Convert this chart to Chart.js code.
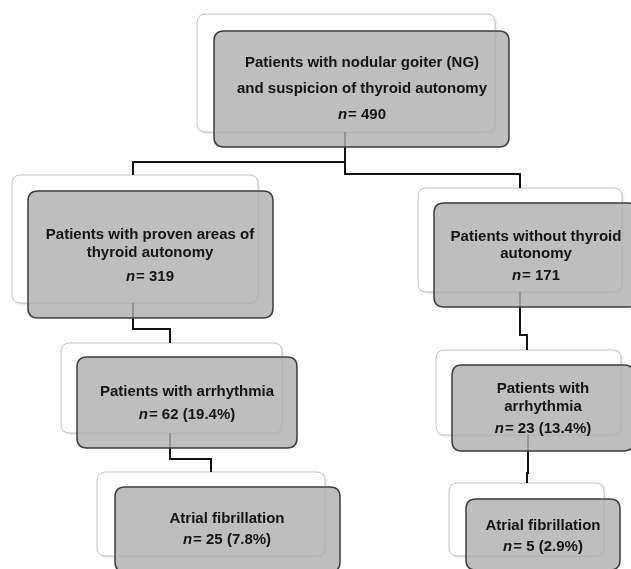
<!DOCTYPE html>
<html>
<head>
<meta charset="utf-8">
<script src="https://cdn.jsdelivr.net/npm/chart.js@4.4.1/dist/chart.umd.min.js"></script>
<style>
  html, body { margin: 0; padding: 0; background: #fff; }
  #wrap { width: 631px; height: 569px; position: relative; }
</style>
</head>
<body>
<div id="wrap"><canvas id="flowChart"></canvas></div>
<script>
// node texts and counts of the flow diagram
const nodeTitles = [
  ["Patients with nodular goiter (NG)", "and suspicion of thyroid autonomy"],
  ["Patients with proven areas of", "thyroid autonomy"],
  ["Patients without thyroid", "autonomy"],
  ["Patients with arrhythmia"],
  ["Patients with", "arrhythmia"],
  ["Atrial fibrillation"],
  ["Atrial fibrillation"],
];
const nodeCounts = [490, 319, 171, 62, 23, 25, 5];
const nodePercents = [null, null, null, 19.4, 13.4, 7.8, 2.9];

// layout in axis units (x: 0..631, y: 0..569 top-down)
const backBoxes = [
  [197, 14, 495, 132],
  [12, 175, 258, 303],
  [418, 188, 622, 292],
  [61, 343, 282, 433],
  [436, 350, 621, 435],
  [97, 472, 325, 556],
  [449, 483, 604, 556],
];
const frontBoxes = [
  [214, 31, 509, 147],
  [28, 191, 273, 318],
  [434, 203, 638, 307],
  [77, 357, 297, 448],
  [452, 365, 634, 451],
  [115, 487, 340, 572],
  [466, 499, 620, 570],
];
const textX = [362, 150, 536, 187, 543, 227, 543];
const textY = [
  [63, 89, 115],
  [235, 253, 277],
  [237, 254, 276],
  [392, 415],
  [389, 407, 429],
  [519, 540],
  [526, 547],
];
// connector paths (elbow lines between boxes)
const connectors = [
  [[345, 132], [345, 174], [520, 174], [520, 188]],
  [[345, 162], [133, 162], [133, 175]],
  [[133, 303], [133, 329], [170, 329], [170, 343]],
  [[520, 292], [520, 335], [527, 335], [527, 350]],
  [[170, 433], [170, 459], [211, 459], [211, 472]],
  [[528, 435], [528, 473], [527, 473], [527, 483]],
];

function roundRect(ctx, x0, y0, x1, y1, r) {
  ctx.beginPath();
  ctx.moveTo(x0 + r, y0);
  ctx.lineTo(x1 - r, y0);
  ctx.quadraticCurveTo(x1, y0, x1, y0 + r);
  ctx.lineTo(x1, y1 - r);
  ctx.quadraticCurveTo(x1, y1, x1 - r, y1);
  ctx.lineTo(x0 + r, y1);
  ctx.quadraticCurveTo(x0, y1, x0, y1 - r);
  ctx.lineTo(x0, y0 + r);
  ctx.quadraticCurveTo(x0, y0, x0 + r, y0);
  ctx.closePath();
}

const flowPlugin = {
  id: "flow",
  afterDatasetsDraw(chart) {
    const ctx = chart.ctx;
    const sx = chart.scales.x, sy = chart.scales.y;
    const px = (v) => sx.getPixelForValue(v);
    const py = (v) => sy.getPixelForValue(v);
    ctx.save();

    // white back boxes
    backBoxes.forEach((b) => {
      ctx.save();
      ctx.shadowColor = "rgba(0,0,0,0.18)";
      ctx.shadowBlur = 3;
      ctx.shadowOffsetX = 1;
      ctx.shadowOffsetY = 1;
      roundRect(ctx, px(b[0]), py(b[1]), px(b[2]), py(b[3]), 9);
      ctx.fillStyle = "#ffffff";
      ctx.fill();
      ctx.restore();
      ctx.strokeStyle = "#c4c4c4";
      ctx.lineWidth = 1;
      ctx.stroke();
    });

    // connectors
    ctx.strokeStyle = "#111";
    ctx.lineWidth = 2;
    ctx.lineJoin = "miter";
    connectors.forEach((path) => {
      ctx.beginPath();
      path.forEach((p, i) => {
        if (i === 0) ctx.moveTo(px(p[0]), py(p[1]));
        else ctx.lineTo(px(p[0]), py(p[1]));
      });
      ctx.stroke();
    });

    // grey front boxes (semi transparent)
    frontBoxes.forEach((b) => {
      roundRect(ctx, px(b[0]), py(b[1]), px(b[2]), py(b[3]), 10);
      ctx.fillStyle = "rgba(176,176,176,0.82)";
      ctx.fill();
      ctx.strokeStyle = "#3c3c3c";
      ctx.lineWidth = 1.5;
      ctx.stroke();
    });

    // texts
    ctx.fillStyle = "#141414";
    ctx.textBaseline = "middle";
    const bold = 'bold 15px "Liberation Sans", Arial, sans-serif';
    const ital = 'italic bold 15px "Liberation Sans", Arial, sans-serif';
    nodeTitles.forEach((lines, i) => {
      const cx = px(textX[i]);
      ctx.font = bold;
      ctx.textAlign = "center";
      lines.forEach((t, j) => ctx.fillText(t, cx, py(textY[i][j])));
      // count line: italic n + rest
      let rest = "= " + nodeCounts[i];
      if (nodePercents[i] !== null) rest += " (" + nodePercents[i].toFixed(1) + "%)";
      ctx.font = ital;
      const wn = ctx.measureText("n").width;
      ctx.font = bold;
      const wr = ctx.measureText(rest).width;
      const x0 = cx - (wn + 1 + wr) / 2;
      const yy = py(textY[i][lines.length]);
      ctx.textAlign = "left";
      ctx.font = ital;
      ctx.fillText("n", x0, yy);
      ctx.font = bold;
      ctx.fillText(rest, x0 + wn + 1, yy);
    });
    ctx.restore();
  },
};

const chart = new Chart(document.getElementById("flowChart"), {
  type: "scatter",
  data: {
    datasets: [
      {
        label: "Patients",
        data: nodeCounts.map((n, i) => ({ x: textX[i], y: textY[i][0], n: n })),
        pointRadius: 0,
        pointHoverRadius: 0,
      },
    ],
  },
  options: {
    responsive: true,
    maintainAspectRatio: false,
    animation: false,
    layout: { padding: 0 },
    plugins: { legend: { display: false }, tooltip: { enabled: false } },
    scales: {
      x: { type: "linear", min: 0, max: 631, display: false },
      y: { type: "linear", min: 0, max: 569, reverse: true, display: false },
    },
  },
  plugins: [flowPlugin],
});
</script>
</body>
</html>
